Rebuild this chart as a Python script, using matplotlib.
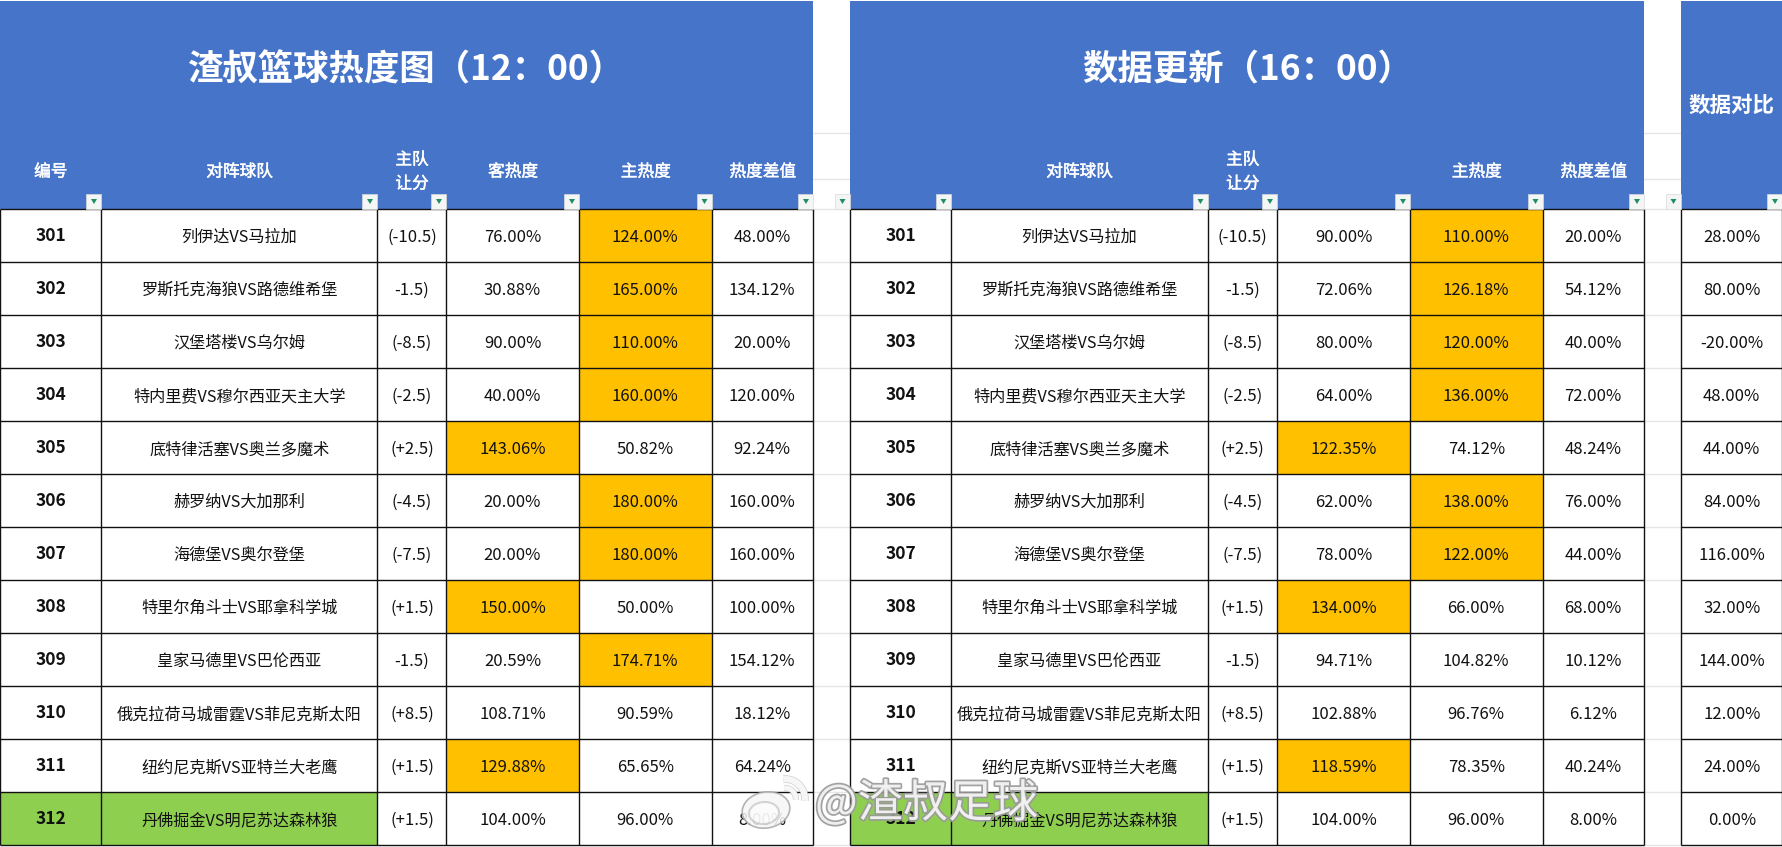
import matplotlib
matplotlib.use("Agg")
import matplotlib.pyplot as plt
from matplotlib.patches import Rectangle, Ellipse, Polygon, Arc
import matplotlib.patheffects as pe

plt.rcParams['font.family'] = ['Noto Sans CJK SC', 'DejaVu Sans']

ids = [301, 302, 303, 304, 305, 306, 307, 308, 309, 310, 311, 312]
teams = ["列伊达VS马拉加", "罗斯托克海狼VS路德维希堡", "汉堡塔楼VS乌尔姆", "特内里费VS穆尔西亚天主大学",
         "底特律活塞VS奥兰多魔术", "赫罗纳VS大加那利", "海德堡VS奥尔登堡", "特里尔角斗士VS耶拿科学城",
         "皇家马德里VS巴伦西亚", "俄克拉荷马城雷霆VS菲尼克斯太阳", "纽约尼克斯VS亚特兰大老鹰", "丹佛掘金VS明尼苏达森林狼"]
handicap = ["(-10.5)", "-1.5)", "(-8.5)", "(-2.5)", "(+2.5)", "(-4.5)", "(-7.5)", "(+1.5)", "-1.5)", "(+8.5)", "(+1.5)", "(+1.5)"]
away_12 = [76.00, 30.88, 90.00, 40.00, 143.06, 20.00, 20.00, 150.00, 20.59, 108.71, 129.88, 104.00]
home_12 = [124.00, 165.00, 110.00, 160.00, 50.82, 180.00, 180.00, 50.00, 174.71, 90.59, 65.65, 96.00]
diff_12 = [48.00, 134.12, 20.00, 120.00, 92.24, 160.00, 160.00, 100.00, 154.12, 18.12, 64.24, 8.00]
away_16 = [90.00, 72.06, 80.00, 64.00, 122.35, 62.00, 78.00, 134.00, 94.71, 102.88, 118.59, 104.00]
home_16 = [110.00, 126.18, 120.00, 136.00, 74.12, 138.00, 122.00, 66.00, 104.82, 96.76, 78.35, 96.00]
diff_16 = [20.00, 54.12, 40.00, 72.00, 48.24, 76.00, 44.00, 68.00, 10.12, 6.12, 40.24, 8.00]
compare = [28.00, 80.00, -20.00, 48.00, 44.00, 84.00, 116.00, 32.00, 144.00, 12.00, 24.00, 0.00]
hot_away_12 = [305, 308, 311]
hot_home_12 = [301, 302, 303, 304, 306, 307, 309]
hot_away_16 = [305, 308, 311]
hot_home_16 = [301, 302, 303, 304, 306, 307]
picked = [312]
title_12 = "渣叔篮球热度图（12：00）"
title_16 = "数据更新（16：00）"
title_cmp = "数据对比"
heads_12 = ["编号", "对阵球队", "主队\n让分", "客热度", "主热度", "热度差值"]
heads_16 = ["", "对阵球队", "主队\n让分", "", "主热度", "热度差值"]

BLUE, ORANGE, GREEN, LINE, FAINT = "#4674C9", "#FFC000", "#8FCF50", "#111111", "#E6E6E6"
EDGES_L = [0, 101.5, 377.5, 446.5, 579.5, 712, 813.5]
EDGES_R = [850, 951, 1208, 1277.5, 1410.5, 1543, 1644.5]
EDGES_C = [1681, 1782.5]
HEAD_TOP, HEAD_BOT, ROW_H = 1, 209, 53
FS = 12
FS_TEAM = 11.65
THICK = [pe.withStroke(linewidth=0.35, foreground="white")]

fig = plt.figure(figsize=(17.83, 8.47), dpi=100, facecolor="white")
ax = fig.add_axes([0, 0, 1, 1])
ax.set_xlim(0, 1783)
ax.set_ylim(847, 0)
ax.axis("off")

def pct(v):
    return f"{v:.2f}%"

def button(x_right):
    ax.add_patch(Rectangle((x_right - 15, 194), 15, 15, fc="#F4F6F5", ec="#DADADA", lw=0.5, zorder=4))
    ax.add_patch(Polygon([(x_right - 10.5, 199), (x_right - 4.5, 199), (x_right - 7.5, 204)], fc="#1F8F62", ec="none", zorder=5))

def table(edges, columns, hot_a, hot_h, head_labels, title):
    n = len(ids)
    ax.add_patch(Rectangle((edges[0], HEAD_TOP), edges[-1] - edges[0], HEAD_BOT - HEAD_TOP, fc=BLUE, ec="none", zorder=1))
    cx = [(a + b) / 2 for a, b in zip(edges[:-1], edges[1:])]
    if title:
        ax.text((edges[0] + edges[-1]) / 2, 70, title, color="white", fontsize=25.5, fontweight="bold", ha="center", va="center", zorder=6)
    for c, lab in zip(cx, head_labels):
        if "\n" in lab:
            a, b = lab.split("\n")
            ax.text(c, 160, a, color="white", fontsize=FS, ha="center", va="center", zorder=6, path_effects=THICK)
            ax.text(c, 184, b, color="white", fontsize=FS, ha="center", va="center", zorder=6, path_effects=THICK)
        elif lab:
            ax.text(c, 172, lab, color="white", fontsize=FS, ha="center", va="center", zorder=6, path_effects=THICK)
    for e in edges[1:]:
        button(e)
    for i in range(n):
        top = HEAD_BOT + i * ROW_H
        ym = top + ROW_H / 2
        if ids[i] in picked:
            ax.add_patch(Rectangle((edges[0], top), edges[2] - edges[0], ROW_H, fc=GREEN, ec="none", zorder=1))
        if ids[i] in hot_a:
            ax.add_patch(Rectangle((edges[3], top), edges[4] - edges[3], ROW_H, fc=ORANGE, ec="none", zorder=1))
        if ids[i] in hot_h:
            ax.add_patch(Rectangle((edges[4], top), edges[5] - edges[4], ROW_H, fc=ORANGE, ec="none", zorder=1))
        ax.text(cx[0], ym + 0.5, str(ids[i]), color="#111111", fontsize=12.5, fontweight="bold", ha="center", va="center", zorder=6)
        ax.text(cx[1], ym + 2, teams[i], color="#111111", fontsize=FS_TEAM, ha="center", va="center", zorder=6)
        ax.text(cx[2], ym + 1.5, handicap[i], color="#111111", fontsize=FS, ha="center", va="center", zorder=6)
        for k, col in enumerate(columns):
            ax.text(cx[3 + k] - 0.5, ym + 2, pct(col[i]), color="#111111", fontsize=FS, ha="center", va="center", zorder=6)
    for i in range(n + 1):
        y = HEAD_BOT + i * ROW_H
        ax.plot([edges[0], edges[-1]], [y, y], color=LINE, lw=1.0, zorder=3, solid_capstyle="butt")
    for e in edges:
        ax.plot([e, e], [HEAD_BOT, HEAD_BOT + n * ROW_H], color=LINE, lw=1.0, zorder=3, solid_capstyle="butt")

# faint sheet grid in the spacer columns
for x0, x1 in [(EDGES_L[-1], EDGES_R[0]), (EDGES_R[-1], EDGES_C[0])]:
    for y in [133, 179] + [HEAD_BOT + i * ROW_H for i in range(len(ids) + 1)]:
        ax.plot([x0, x1], [y, y], color=FAINT, lw=1.0, zorder=0)
    button(x1)

table(EDGES_L, [away_12, home_12, diff_12], hot_away_12, hot_home_12, heads_12, title_12)
table(EDGES_R, [away_16, home_16, diff_16], hot_away_16, hot_home_16, heads_16, title_16)

# comparison column
ax.add_patch(Rectangle((EDGES_C[0], HEAD_TOP), EDGES_C[1] - EDGES_C[0], HEAD_BOT - HEAD_TOP, fc=BLUE, ec="none", zorder=1))
ax.text(sum(EDGES_C) / 2, 105, title_cmp, color="white", fontsize=15.5, fontweight="bold", ha="center", va="center", zorder=6)
button(EDGES_C[1])
for i, v in enumerate(compare):
    ax.text(sum(EDGES_C) / 2, HEAD_BOT + (i + 0.5) * ROW_H + 2, pct(v), color="#111111", fontsize=FS, ha="center", va="center", zorder=6)
for i in range(len(ids) + 1):
    y = HEAD_BOT + i * ROW_H
    ax.plot(EDGES_C, [y, y], color=LINE, lw=1.0, zorder=3, solid_capstyle="butt")
for e in EDGES_C:
    ax.plot([e, e], [HEAD_BOT, HEAD_BOT + len(ids) * ROW_H], color=LINE, lw=1.0, zorder=3, solid_capstyle="butt")

# watermark
halo = [pe.withStroke(linewidth=2.5, foreground="#9A9A9A70")]
ax.text(815, 804, "@渣叔足球", color="#F6F6F6", alpha=0.92, fontsize=32.5, ha="left", va="center", zorder=8, path_effects=halo)
ax.add_patch(Ellipse((766, 810), 48, 36, angle=-10, fc="#F6F6F6", ec="#A8A8A8", lw=1.2, alpha=0.85, zorder=8))
ax.add_patch(Ellipse((764, 813), 30, 22, angle=-5, fc="#FFFFFF", ec="#B5B5B5", lw=1.5, alpha=0.55, zorder=8))
for r, w in [(20, 4.5), (11, 3.5)]:
    ax.add_patch(Arc((785, 799), 2 * r, 2 * r, theta1=-95, theta2=5, ec="#B0B0B0", lw=w + 1, alpha=0.6, zorder=8))
    ax.add_patch(Arc((785, 799), 2 * r, 2 * r, theta1=-95, theta2=5, ec="#F6F6F6", lw=w, zorder=8))

fig.savefig("out.png", dpi=100, facecolor="white")
